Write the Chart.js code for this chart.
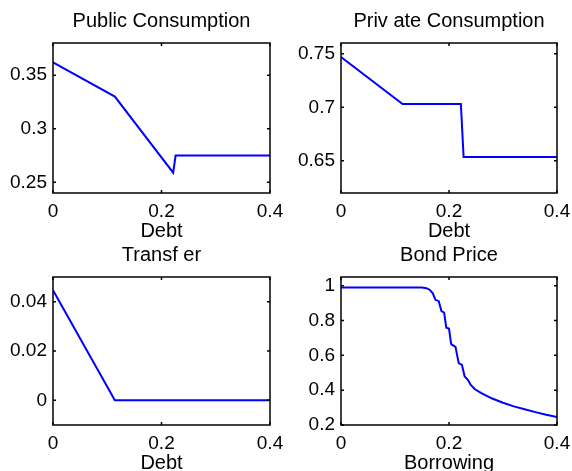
<!DOCTYPE html>
<html>
<head>
<style>
  * { margin: 0; padding: 0; box-sizing: border-box; }
  body { width: 572px; height: 471px; background: #fff; overflow: hidden; }
  .panel { position: absolute; left: 0; top: 0; }
</style>
</head>
<body>
<canvas id="c1" class="panel" width="572" height="471"></canvas>
<canvas id="c2" class="panel" width="572" height="471"></canvas>
<canvas id="c3" class="panel" width="572" height="471"></canvas>
<canvas id="c4" class="panel" width="572" height="471"></canvas>
<script src="https://cdn.jsdelivr.net/npm/chart.js@4/dist/chart.umd.min.js"></script>
<script>
// data
const publicDebt = [0, 0.114, 0.2215, 0.226, 0.4];
const publicCons = [0.362, 0.330, 0.259, 0.275, 0.275];

const privateDebt = [0, 0.114, 0.222, 0.227, 0.4];
const privateCons = [0.747, 0.703, 0.703, 0.6537, 0.6537];

const transferDebt = [0, 0.114, 0.4];
const transfer = [0.0446, 0, 0];

const borrowing = [0, 0.150, 0.158, 0.164, 0.170, 0.175, 0.181, 0.186, 0.191, 0.195, 0.200, 0.204,
  0.212, 0.218, 0.224, 0.229, 0.235, 0.240, 0.248, 0.260, 0.280, 0.300, 0.320, 0.340, 0.360, 0.380, 0.4];
const bondPrice = [0.99, 0.99, 0.986, 0.977, 0.956, 0.919, 0.911, 0.854, 0.845, 0.759, 0.754, 0.665,
  0.649, 0.555, 0.545, 0.479, 0.460, 0.431, 0.405, 0.383, 0.352, 0.328, 0.307, 0.290, 0.274, 0.259, 0.246];

const xTicks = [0, 0.2, 0.4];
const yTicksPublic = [0.25, 0.3, 0.35];
const yTicksPrivate = [0.65, 0.7, 0.75];
const yTicksTransfer = [0, 0.02, 0.04];
const yTicksBond = [0.2, 0.4, 0.6, 0.8, 1];

const FAMILY = '"Liberation Sans", Arial, sans-serif';
const TICK_FONT = { family: FAMILY, size: 19 };
const LABEL_FONT = { family: FAMILY, size: 20, weight: 'normal' };
const W = 572, H = 471;

// black box + inward ticks, matlab style
const boxPlugin = {
  id: 'box',
  afterDatasetsDraw(chart) {
    const { ctx, chartArea: a, scales } = chart;
    ctx.save();
    ctx.strokeStyle = '#000';
    ctx.lineWidth = 1.5;
    ctx.beginPath();
    scales.x.ticks.forEach(t => {
      const px = scales.x.getPixelForValue(t.value);
      ctx.moveTo(px, a.bottom); ctx.lineTo(px, a.bottom - 3);
      ctx.moveTo(px, a.top); ctx.lineTo(px, a.top + 3);
    });
    scales.y.ticks.forEach(t => {
      const py = scales.y.getPixelForValue(t.value);
      ctx.moveTo(a.left, py); ctx.lineTo(a.left + 3, py);
      ctx.moveTo(a.right, py); ctx.lineTo(a.right - 3, py);
    });
    ctx.stroke();
    ctx.strokeRect(a.left, a.top, a.right - a.left, a.bottom - a.top);
    ctx.restore();
  }
};

function panel(id, box, title, xLabel, xs, ys, yMin, yMax, yTicks) {
  const yAxisW = 50, xAxisH = 54;
  const titleBlock = LABEL_FONT.size * 1.2 + 10;
  new Chart(document.getElementById(id), {
    type: 'line',
    data: {
      datasets: [{
        data: xs.map((x, i) => ({ x: x, y: ys[i] })),
        borderColor: '#0000ff',
        borderWidth: 2,
        pointRadius: 0,
        tension: 0,
        fill: false
      }]
    },
    options: {
      responsive: false,
      animation: false,
      layout: {
        padding: {
          left: box.l - yAxisW,
          right: W - box.r,
          top: box.t - titleBlock,
          bottom: H - box.b - xAxisH
        }
      },
      plugins: {
        legend: { display: false },
        tooltip: { enabled: false },
        title: {
          display: true,
          text: title,
          color: '#000',
          fullSize: false,
          font: LABEL_FONT,
          padding: { top: 0, bottom: 10 }
        }
      },
      scales: {
        x: {
          type: 'linear',
          min: 0, max: 0.4,
          afterBuildTicks: s => { s.ticks = xTicks.map(v => ({ value: v })); },
          afterFit: s => { s.height = xAxisH; },
          grid: { display: false },
          border: { display: false },
          ticks: { color: '#000', font: TICK_FONT, padding: -1, maxRotation: 0, callback: v => String(v) },
          title: { display: true, text: xLabel, color: '#000', font: LABEL_FONT, padding: { top: 4, bottom: 4 } }
        },
        y: {
          type: 'linear',
          min: yMin, max: yMax,
          afterBuildTicks: s => { s.ticks = yTicks.map(v => ({ value: v })); },
          afterFit: s => { s.width = yAxisW; },
          grid: { display: false },
          border: { display: false },
          ticks: { color: '#000', font: TICK_FONT, padding: -2, callback: v => String(v) }
        }
      }
    },
    plugins: [boxPlugin]
  });
}

panel('c1', { l: 53, t: 43, r: 270, b: 193 }, 'Public Consumption', 'Debt',
  publicDebt, publicCons, 0.24, 0.38, yTicksPublic);
panel('c2', { l: 341, t: 43, r: 557, b: 193 }, 'Priv ate Consumption', 'Debt',
  privateDebt, privateCons, 0.62, 0.76, yTicksPrivate);
panel('c3', { l: 53, t: 277, r: 270, b: 425 }, 'Transf er', 'Debt',
  transferDebt, transfer, -0.01, 0.05, yTicksTransfer);
panel('c4', { l: 341, t: 277, r: 557, b: 425 }, 'Bond Price', 'Borrowing',
  borrowing, bondPrice, 0.2, 1.05, yTicksBond);
</script>
</body>
</html>
